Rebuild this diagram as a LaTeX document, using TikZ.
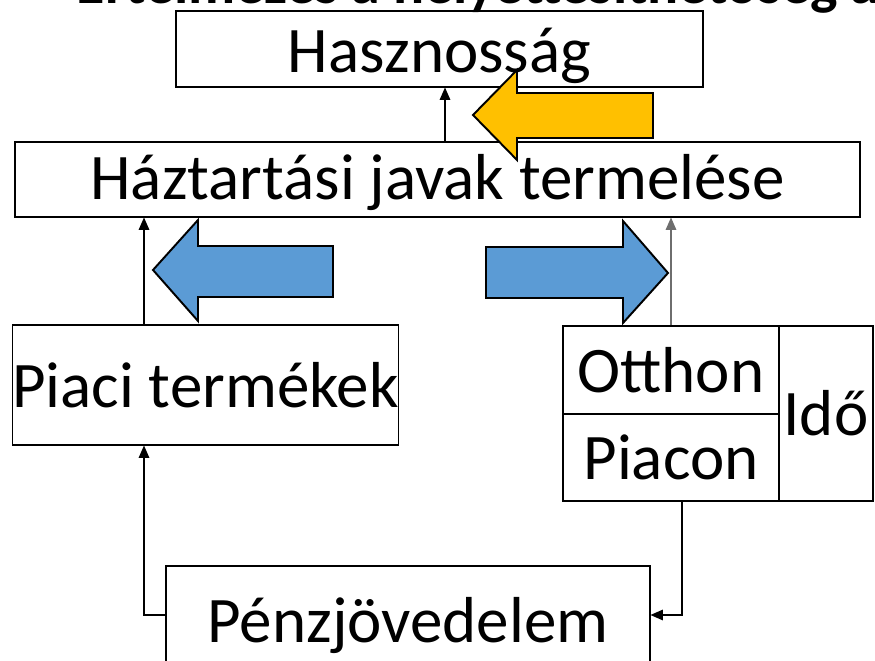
\documentclass[tikz,border=0pt]{standalone}
\usepackage{fontspec}
\setmainfont{Carlito}
\usepackage{tikz}
\usetikzlibrary{arrows.meta,calc}
\definecolor{arrowblue}{RGB}{91, 155, 213}
\definecolor{arrowyellow}{RGB}{255, 192, 0}
\definecolor{linegray}{RGB}{110, 110, 110}
\newcommand{\lowertext}[2]{\raisebox{-#1}[\height][\depth]{#2}}

\begin{document}
\begin{tikzpicture}[x=0.02cm, y=-0.02cm,
    box/.style={draw=black, line width=0.6pt, inner sep=0pt, font=\fontsize{37}{44}\selectfont},
    link/.style={draw=black, line width=0.6pt, -{Triangle[length=7pt, width=6pt]}},
    bigarrow/.style={draw=black, line width=1.1pt, line join=miter}]
    \useasboundingbox (0,0) rectangle (875,661);
    \clip (0,0) rectangle (875,661);

    \node[anchor=base east, inner sep=0pt, font=\fontsize{33}{40}\selectfont\bfseries] (title) at (880,4) {Értelmezés a helyettesíthetőség a};

    \node[box, minimum width=527*0.02cm, minimum height=76*0.02cm] (hasz) at (439.5,49) {\lowertext{0.14cm}{Hasznosság}};
    \node[box, minimum width=845*0.02cm, minimum height=75*0.02cm] (haz) at (437.5,179.5) {\lowertext{0.06cm}{Háztartási javak termelése}};
    \node[box, minimum width=381*0.02cm, minimum height=120*0.02cm] (piaci) at (205.5,385) {Piaci termékek};
    \node[box, minimum width=216*0.02cm, minimum height=88*0.02cm] (otthon) at (671,370) {Otthon};
    \node[box, minimum width=216*0.02cm, minimum height=87*0.02cm] (piacon) at (671,457.5) {Piacon};
    \node[box, minimum width=94*0.02cm, minimum height=175*0.02cm] (ido) at (826,413.5) {Idő};
    \node[box, minimum width=484*0.02cm, minimum height=98*0.02cm] (penz) at (408,615) {\lowertext{0.22cm}{Pénzjövedelem}};

    \coordinate (xa) at (445,0);
    \coordinate (xl) at (144,0);
    \coordinate (xr) at (682,0);
    \draw[link] (haz.north -| xa) -- (hasz.south -| xa);
    \draw[link] (piaci.north -| xl) -- (haz.south -| xl);
    \draw[link, draw=linegray] (otthon.north) -- (haz.south -| otthon.north);
    \draw[link] (penz.west) -| (piaci.south -| xl);
    \draw[link] (piacon.south -| xr) |- (penz.east);

    \draw[bigarrow, fill=arrowyellow] (473,115) -- (517,70) -- (517,93) -- (653,93) -- (653,138) -- (517,138) -- (517,160) -- cycle;
    \draw[bigarrow, fill=arrowblue] (153,270) -- (198,220) -- (198,246) -- (333,246) -- (333,297) -- (198,297) -- (198,321) -- cycle;
    \draw[bigarrow, fill=arrowblue] (486,247) -- (623,247) -- (623,221) -- (668,273) -- (623,323) -- (623,298) -- (486,298) -- cycle;
\end{tikzpicture}
\end{document}
